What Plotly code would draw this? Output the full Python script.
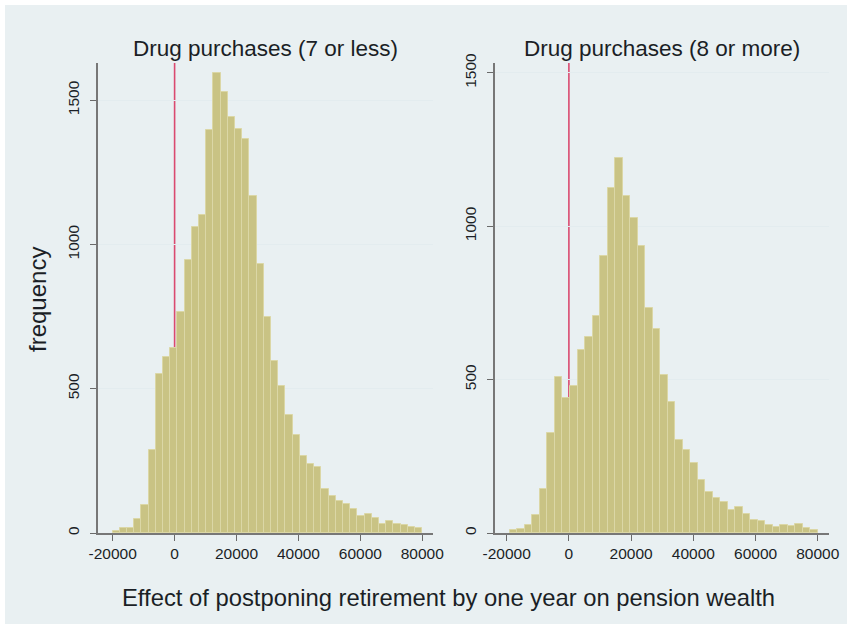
import numpy as np
import plotly.graph_objects as go

# Histogram of the pension-wealth effect, split by number of drug purchases
panel_titles = ["Drug purchases (7 or less)", "Drug purchases (8 or more)"]

# Panel 1: 43 bins starting at -20000
low_bin_start = -20000
low_bin_width = 100000 / 43
low_counts = [8, 18, 18, 50, 97, 287, 550, 610, 641, 765, 945, 1060, 1102, 1396,
              1596, 1527, 1442, 1400, 1365, 1168, 934, 749, 597, 511, 410, 340,
              268, 238, 229, 152, 128, 111, 101, 84, 60, 65, 53, 30, 42, 30, 28,
              22, 18]

# Panel 2: 41 bins starting at -18950
high_bin_start = -18950
high_bin_width = 2413
high_counts = [11, 14, 25, 58, 145, 326, 510, 440, 478, 596, 638, 707, 902, 1124,
               1222, 1099, 1026, 936, 733, 666, 516, 427, 303, 271, 227, 173, 134,
               113, 102, 74, 85, 61, 44, 38, 25, 20, 27, 22, 28, 16, 9]

x_ticks = [-20000, 0, 20000, 40000, 60000, 80000]
x_tick_text = ["-20000", "0", "20000", "40000", "60000", "80000"]
y_ticks = [0, 500, 1000, 1500]
y_tick_text = ["0", "500", "1000", "1500"]
ref_value = 0

x_title = "Effect of postponing retirement by one year on pension wealth"
y_title = "frequency"

W, H = 847, 624
BAR_FILL = "#c9c384"
BAR_EDGE = "#dbd7a6"
REGION_BG = "#e9f0f2"
TEXT = "#1b1f26"
FONT = "Arial, Liberation Sans, sans-serif"


def px_x(p):
    return p / W


def px_y(p):
    return 1 - p / H


def centers(start, width, n):
    return start + width * (np.arange(n) + 0.5)


fig = go.Figure()

fig.add_trace(go.Bar(
    x=centers(low_bin_start, low_bin_width, len(low_counts)), y=low_counts,
    width=low_bin_width, xaxis="x", yaxis="y",
    marker=dict(color=BAR_FILL, line=dict(color=BAR_EDGE, width=1)),
    showlegend=False, hoverinfo="x+y",
))
fig.add_trace(go.Bar(
    x=centers(high_bin_start, high_bin_width, len(high_counts)), y=high_counts,
    width=high_bin_width, xaxis="x2", yaxis="y2",
    marker=dict(color=BAR_FILL, line=dict(color=BAR_EDGE, width=1)),
    showlegend=False, hoverinfo="x+y",
))

axis_common = dict(
    showline=True, linecolor="#777777", linewidth=1.5,
    ticks="outside", ticklen=6, tickwidth=1, tickcolor="#6a6a6a",
    tickfont=dict(family=FONT, size=15.5, color=TEXT),
    zeroline=False, automargin=False, fixedrange=True,
)

xdom1 = [px_x(98), px_x(433)]
xdom2 = [px_x(495), px_x(828.5)]
ydom = [px_y(533), px_y(63)]

fig.update_layout(
    width=W, height=H,
    margin=dict(l=0, r=0, t=0, b=0, pad=0),
    paper_bgcolor="white", plot_bgcolor="white",
    bargap=0, barmode="overlay",
    font=dict(family=FONT, color=TEXT),
    xaxis=dict(domain=xdom1, range=[-24742, 83463], tickvals=x_ticks,
               ticktext=x_tick_text, showgrid=False, anchor="y", **axis_common),
    yaxis=dict(domain=ydom, range=[0, 1629], tickvals=y_ticks,
               ticktext=y_tick_text, tickangle=-90, ticklabelstandoff=5,
               showgrid=True, gridcolor="#e3ecef", gridwidth=1,
               anchor="x", **axis_common),
    xaxis2=dict(domain=xdom2, range=[-23748, 83440], tickvals=x_ticks,
                ticktext=x_tick_text, showgrid=False, anchor="y2", **axis_common),
    yaxis2=dict(domain=ydom, range=[0, 1532], tickvals=y_ticks,
                ticktext=y_tick_text, tickangle=-90, ticklabelstandoff=5,
                showgrid=True, gridcolor="#e3ecef", gridwidth=1,
                anchor="x2", **axis_common),
)

shapes = [
    # light graph region behind both panels
    dict(type="rect", xref="paper", yref="paper", x0=px_x(5), x1=1.0,
         y0=0.0, y1=px_y(5), fillcolor=REGION_BG, line=dict(width=0),
         layer="below"),
]
# reference line at zero, drawn beneath the bars
for xa, ya in [("x", "y"), ("x2", "y2")]:
    shapes.append(dict(
        type="line", xref=xa, yref=f"{ya} domain", x0=ref_value, x1=ref_value,
        y0=0, y1=1, line=dict(color="#da4a70", width=1.6), layer="below",
    ))
fig.update_layout(shapes=shapes)

annotations = [
    dict(text=panel_titles[0], x=(xdom1[0] + xdom1[1]) / 2, y=px_y(49),
         xref="paper", yref="paper", showarrow=False,
         xanchor="center", yanchor="middle",
         font=dict(family=FONT, size=22.5, color=TEXT)),
    dict(text=panel_titles[1], x=(xdom2[0] + xdom2[1]) / 2, y=px_y(49),
         xref="paper", yref="paper", showarrow=False,
         xanchor="center", yanchor="middle",
         font=dict(family=FONT, size=22.5, color=TEXT)),
    dict(text=x_title, x=px_x(448), y=px_y(597), xref="paper", yref="paper",
         showarrow=False, xanchor="center", yanchor="middle",
         font=dict(family=FONT, size=23.8, color=TEXT)),
    dict(text=y_title, x=px_x(37), y=px_y(300), xref="paper", yref="paper",
         showarrow=False, xanchor="center", yanchor="middle", textangle=-90,
         font=dict(family=FONT, size=24, color=TEXT)),
]
fig.update_layout(annotations=annotations)

fig.write_html("out.html")
